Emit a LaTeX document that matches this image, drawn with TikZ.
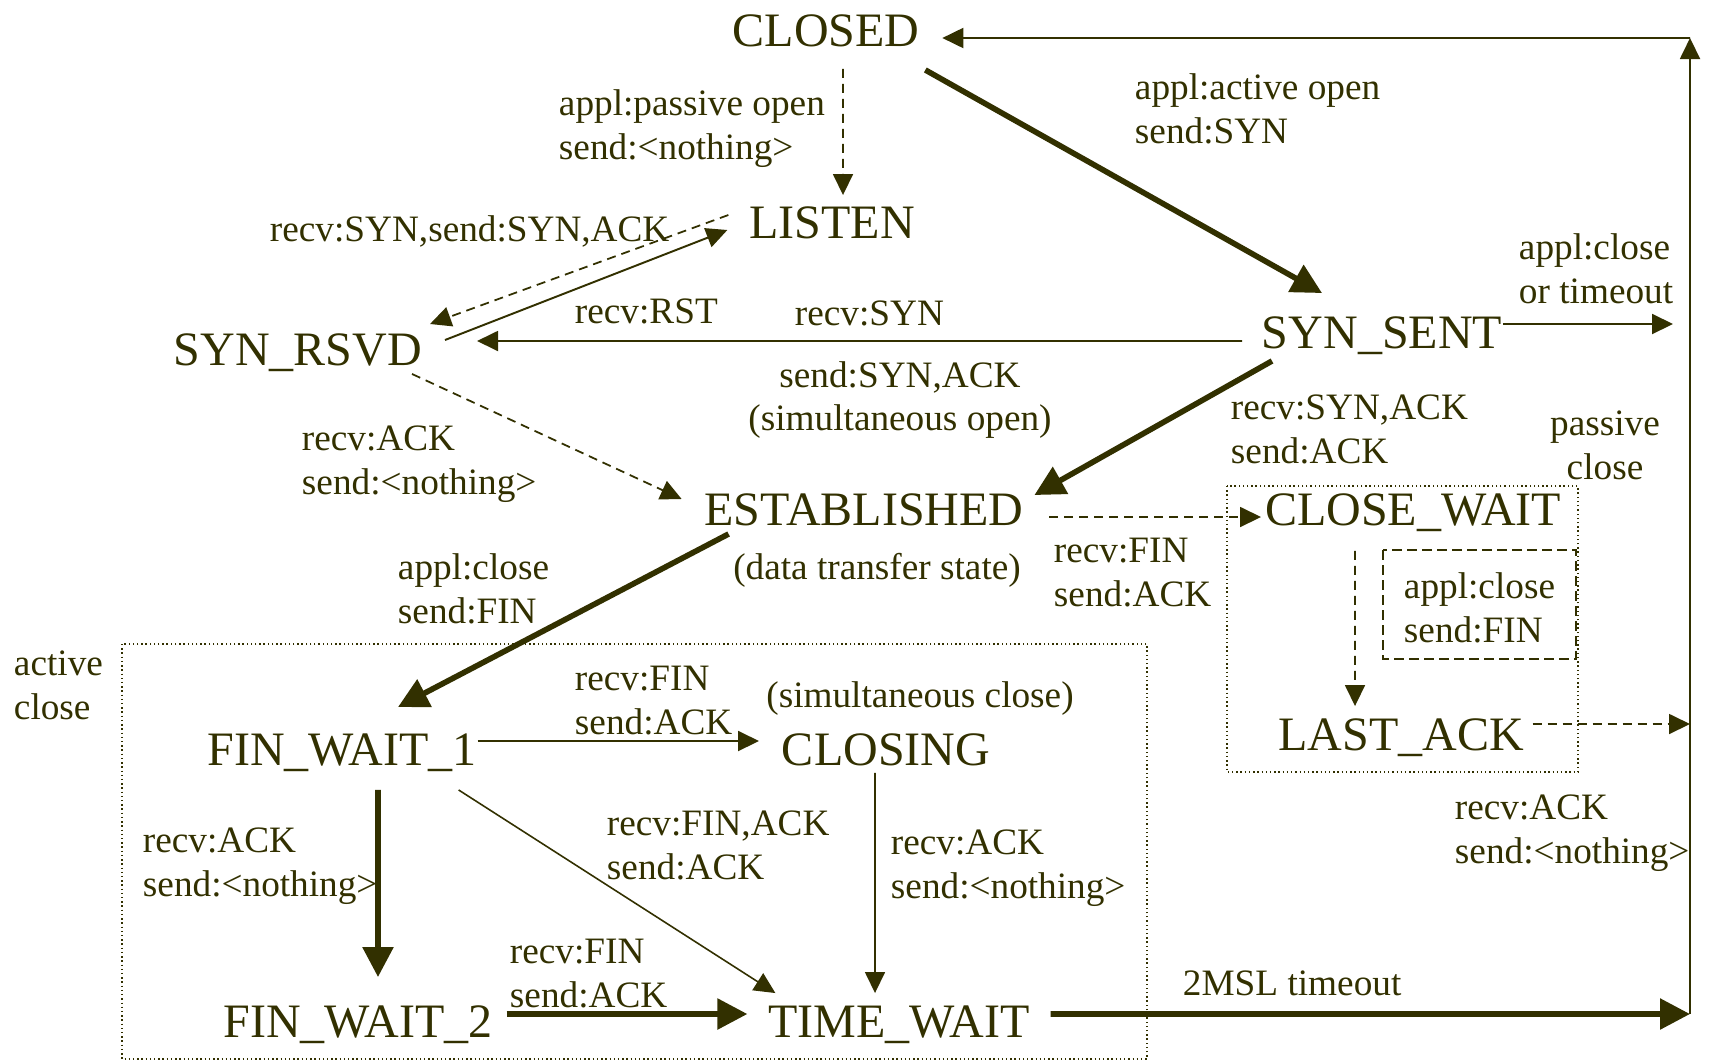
\documentclass[tikz,border=0pt]{standalone}
\usepackage{fontspec}
\setmainfont{Liberation Serif}
\usetikzlibrary{arrows.meta, positioning}
\definecolor{darkolive}{RGB}{50,48,0}

\begin{document}
\begin{tikzpicture}[>={Triangle[length=0.21cm, width=0.2cm]}, color=darkolive, line width=0.55pt]
	\tikzstyle{state} = [inner sep=0pt, text height=0.36cm, text depth=0.04cm, font=\fontsize{13.66}{16}\selectfont]
	\tikzstyle{lbl} = [inner sep=0pt, align=left, anchor=west, font=\fontsize{10.6}{12.5}\selectfont]
	\tikzstyle{clbl} = [lbl, align=center, anchor=center]
	\tikzstyle{heavy} = [line width=1.6pt, -{Triangle[length=0.3cm, width=0.3cm]}]
	\tikzstyle{plain} = [->]
	\tikzstyle{hairline} = [line width=0.45pt, ->]
	\tikzstyle{dasharrow} = [line width=0.5pt, dash pattern=on 0.09cm off 0.06cm, ->]
	\tikzstyle{dotbox} = [line width=0.4pt, dash pattern=on 0.4pt off 0.8pt]
	\tikzstyle{dashbox} = [line width=0.6pt, dash pattern=on 0.1cm off 0.05cm]

	\useasboundingbox (0, 0) rectangle (17.09, -10.62);

	% groups
	\draw[dotbox] (1.22, -6.44) rectangle (11.47, -10.59);
	\draw[dotbox] (12.27, -4.86) rectangle (15.78, -7.72);
	\draw[dashbox] (13.83, -5.50) rectangle (15.76, -6.59);

	% states
	\node[state] at (8.26, -0.30)  (closed)      {CLOSED};
	\node[state] at (8.32, -2.22)  (listen)      {LISTEN};
	\node[state] at (2.98, -3.49)  (synrsvd)     {SYN\_RSVD};
	\node[state] at (13.82, -3.32) (synsent)     {SYN\_SENT};
	\node[state] at (8.64, -5.09)  (established) {ESTABLISHED};
	\node[state] at (14.13, -5.09) (closewait)   {CLOSE\_WAIT};
	\node[state] at (14.01, -7.34) (lastack)     {LAST\_ACK};
	\node[state] at (3.42, -7.49)  (finwait1)    {FIN\_WAIT\_1};
	\node[state] at (8.86, -7.49)  (closing)     {CLOSING};
	\node[state] at (3.58, -10.21) (finwait2)    {FIN\_WAIT\_2};
	\node[state] at (8.99, -10.21) (timewait)    {TIME\_WAIT};

	\coordinate (railtop) at (16.90, -0.38);
	\coordinate (railbot) at (16.90, -10.14);

	% labels
	\node[lbl]  at (5.58, -1.29)  (lpassive)  {appl:passive open\\send:<nothing>};
	\node[lbl]  at (11.34, -1.09) (lactive)   {appl:active open\\send:SYN};
	\node[lbl]  at (2.69, -2.31)  (lsynrecv)  {recv:SYN,send:SYN,ACK};
	\node[lbl]  at (5.74, -3.11)  (lrst)      {recv:RST};
	\node[lbl]  at (7.94, -3.13)  (lsyn)      {recv:SYN};
	\node[clbl] at (9.00, -4.00)  (lsimopen)  {send:SYN,ACK\\(simultaneous open)};
	\node[lbl]  at (15.18, -2.69) (ltimeout)  {appl:close\\or timeout};
	\node[lbl]  at (12.30, -4.29) (lsynack)   {recv:SYN,ACK\\send:ACK};
	\node[clbl] at (16.05, -4.45) (lpassive2) {passive\\close};
	\node[lbl]  at (3.01, -4.64)  (lack1)     {recv:ACK\\send:<nothing>};
	\node[clbl] at (8.77, -5.70)  (ldata)     {(data transfer state)};
	\node[lbl]  at (10.53, -5.73) (lfin1)     {recv:FIN\\send:ACK};
	\node[lbl]  at (14.03, -6.08) (lclose2)   {appl:close\\send:FIN};
	\node[lbl]  at (3.97, -5.89)  (lclose1)   {appl:close\\send:FIN};
	\node[lbl]  at (0.13, -6.85)  (lactive2)  {active\\close};
	\node[lbl]  at (5.74, -7.01)  (lfin2)     {recv:FIN\\send:ACK};
	\node[clbl] at (9.20, -6.99)  (lsimclose) {(simultaneous close)};
	\node[lbl]  at (1.42, -8.66)  (lack2)     {recv:ACK\\send:<nothing>};
	\node[lbl]  at (6.06, -8.45)  (lfinack)   {recv:FIN,ACK\\send:ACK};
	\node[lbl]  at (8.90, -8.68)  (lack3)     {recv:ACK\\send:<nothing>};
	\node[lbl]  at (14.54, -8.33) (lack4)     {recv:ACK\\send:<nothing>};
	\node[lbl]  at (5.09, -9.74)  (lfin3)     {recv:FIN\\send:ACK};
	\node[lbl]  at (11.82, -9.83) (lmsl)      {2MSL timeout};

	% transitions
	\path
	([xshift=0.17cm,yshift=-0.18cm]closed.south)       edge[dasharrow] ([xshift=0.11cm,yshift=0.06cm]listen.north)
	([xshift=0.05cm,yshift=-0.19cm]closed.south east)  edge[heavy]     ([xshift=-0.60cm,yshift=0.18cm]synsent.north)
	([xshift=-0.20cm,yshift=0.07cm]listen.west)        edge[dasharrow] ([xshift=0.07cm,yshift=0.25cm]synrsvd.east)
	([xshift=0.22cm,yshift=0.09cm]synrsvd.east)        edge[plain]     ([xshift=-0.21cm,yshift=-0.08cm]listen.west)
	([xshift=-0.19cm,yshift=-0.09cm]synsent.west)      edge[plain]     ([xshift=0.54cm,yshift=0.08cm]synrsvd.east)
	([yshift=0.08cm]synsent.east)                      edge[plain]     ([xshift=-0.17cm,yshift=0.08cm]synsent.east -| railtop)
	([xshift=0.11cm,yshift=-0.08cm]synsent.south west) edge[heavy]     ([xshift=0.10cm,yshift=-0.07cm]established.north east)
	([xshift=-0.11cm,yshift=-0.04cm]synrsvd.south east) edge[dasharrow] ([xshift=-0.22cm,yshift=0.10cm]established.west)
	([xshift=0.25cm,yshift=-0.08cm]established.east)   edge[dasharrow] ([xshift=-0.03cm,yshift=-0.08cm]closewait.west)
	([xshift=-0.58cm,yshift=-0.21cm]closewait.south)   edge[dasharrow] ([xshift=-0.46cm,yshift=0.07cm]lastack.north)
	([xshift=0.08cm,yshift=0.10cm]lastack.east)        edge[dasharrow] ([yshift=0.10cm]lastack.east -| railtop)
	(railbot)                                          edge[plain]     (railtop)
	(railtop)                                          edge[plain]     ([xshift=0.22cm,yshift=-0.08cm]closed.east)
	([xshift=0.20cm,yshift=0.07cm]timewait.east)       edge[heavy]     (railbot)
	([xshift=0.25cm,yshift=-0.04cm]established.south west) edge[heavy] ([xshift=0.56cm,yshift=0.21cm]finwait1.north)
	([yshift=0.08cm]finwait1.east)                     edge[plain]     ([xshift=-0.22cm,yshift=0.08cm]closing.west)
	([xshift=0.36cm,yshift=-0.20cm]finwait1.south)     edge[heavy]     ([xshift=0.20cm,yshift=0.23cm]finwait2.north)
	([xshift=-0.19cm,yshift=-0.20cm]finwait1.south east) edge[hairline] ([xshift=0.08cm,yshift=0.07cm]timewait.north west)
	([xshift=-0.11cm,yshift=-0.03cm]closing.south)     edge[hairline]  ([xshift=-0.24cm,yshift=0.07cm]timewait.north)
	([xshift=0.13cm,yshift=0.07cm]finwait2.east)       edge[heavy]     ([xshift=-0.20cm,yshift=0.07cm]timewait.west);
\end{tikzpicture}
\end{document}
